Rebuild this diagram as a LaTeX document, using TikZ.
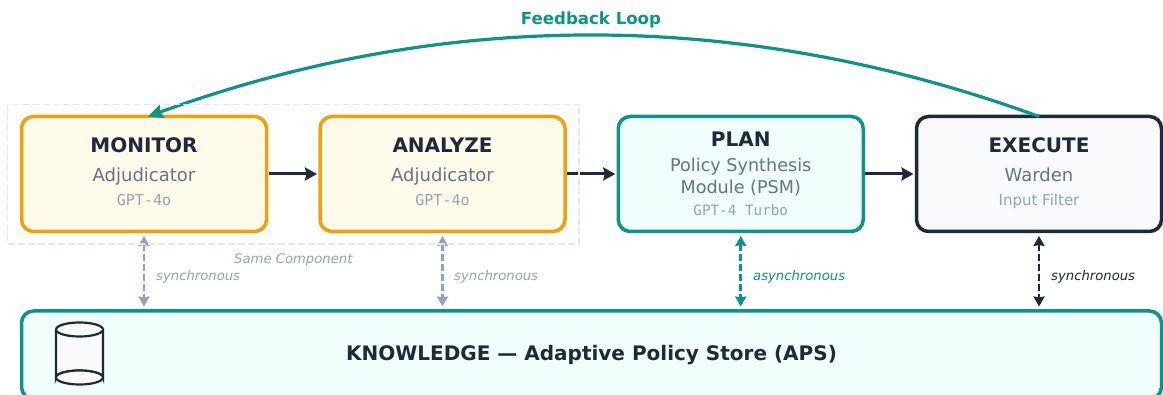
\documentclass[tikz,border=0pt]{standalone}
\usepackage{fontspec}
\setmainfont{DejaVu Sans}
\setmonofont{DejaVu Sans Mono}
\usetikzlibrary{arrows.meta}
\definecolor{orangeC}{HTML}{F59E0B}
\definecolor{orangeF}{HTML}{FFFBEB}
\definecolor{tealC}{HTML}{0D9488}
\definecolor{tealF}{HTML}{F0FDFA}
\definecolor{darkC}{HTML}{1E293B}
\definecolor{darkF}{HTML}{F8FAFC}
\definecolor{slateC}{HTML}{64748B}
\definecolor{mutedC}{HTML}{94A3B8}
\definecolor{edgeC}{HTML}{E2E8F0}
\tikzset{
  x=1pt,y=-1pt,
  box/.style={draw,line width=3.5pt,rounded corners=12pt,inner sep=0pt,outer sep=0pt,minimum height=115pt,minimum width=245pt},
  monbox/.style={box,draw=orangeC,fill=orangeF},
  planbox/.style={box,draw=tealC,fill=tealF},
  execbox/.style={box,draw=darkC,fill=darkF},
  title/.style={anchor=base,inner sep=0pt,text=darkC,font=\fontsize{20}{24}\selectfont\bfseries},
  sub/.style={anchor=base,inner sep=0pt,text=slateC,font=\fontsize{18}{22}\selectfont},
  subplan/.style={anchor=base,inner sep=0pt,text=slateC,font=\fontsize{17.6}{22}\selectfont},
  model/.style={anchor=base,inner sep=0pt,text=mutedC,font=\fontsize{15}{18}\selectfont\ttfamily},
  modelplan/.style={anchor=base,inner sep=0pt,text=mutedC,font=\fontsize{14.3}{18}\selectfont\ttfamily},
  filterlabel/.style={anchor=base,inner sep=0pt,text=mutedC,font=\fontsize{15}{18}\selectfont},
  flow/.style={draw=darkC,line width=3pt,-{Stealth[length=12pt,width=13pt,inset=1.5pt]},shorten <=2pt,shorten >=3pt},
  syncarrow/.style={line width=2.6pt,dash pattern=on 7pt off 3pt,{Stealth[length=10pt,width=11pt,inset=1pt]}-{Stealth[length=10pt,width=11pt,inset=1pt]},shorten <=4.5pt,shorten >=4.5pt},
  edgelabel/.style={anchor=base west,inner sep=0pt,font=\fontsize{13.2}{16}\selectfont\itshape},
}
\begin{document}
\begin{tikzpicture}
\path[use as bounding box,clip] (0,0) rectangle (1163,395);
\fill[white] (0,0) rectangle (1163,395);
% boxes
\node[monbox]  (mon)  at (144,174) {};
\node[monbox]  (ana)  at (442.5,174) {};
\node[planbox] (plan) at (740.75,174) {};
\node[execbox] (exec) at (1039,174) {};
\node[box,draw=tealC,fill=tealF,minimum width=1140pt,minimum height=88pt] (know) at (591.5,355) {};
% flow arrows
\draw[flow] (mon.east) -- (ana.west);
\draw[flow] (ana.east) -- (plan.west);
\draw[flow] (plan.east) -- (exec.west);
% feedback
\draw[draw=tealC,line width=3.2pt,-{Stealth[length=15pt,width=14pt,inset=2pt]}] (exec.north) .. controls (741.7,8.3) and (444.7,8.7) .. ([xshift=4pt]mon.north);
% knowledge links
\draw[syncarrow,draw=mutedC,fill=mutedC] (mon.south) -- (mon.south |- know.north);
\draw[syncarrow,draw=mutedC,fill=mutedC] (ana.south) -- (ana.south |- know.north);
\draw[syncarrow,draw=tealC,fill=tealC] (plan.south) -- (plan.south |- know.north);
\draw[syncarrow,draw=darkC,fill=darkC] (exec.south) -- (exec.south |- know.north);
% same-component frame
\draw[edgeC,line width=1.7pt,dash pattern=on 7pt off 3pt] (7.5,104.5) rectangle (579,244);
% texts
\node[title] (t1) at (144,152.8) {MONITOR};
\node[sub] (s1) at (144,182) {Adjudicator};
\node[model] (m1) at (144,205.7) {GPT-4o};
\node[title] (t2) at (442.5,152.8) {ANALYZE};
\node[sub] (s2) at (442.5,182) {Adjudicator};
\node[model] (m2) at (442.5,205.7) {GPT-4o};
\node[title] (t3) at (740.75,146.8) {PLAN};
\node[subplan] (s3) at (740.75,172) {Policy Synthesis};
\node[subplan] (s3b) at (740.75,194) {Module (PSM)};
\node[modelplan] (m3) at (740.75,215.7) {GPT-4 Turbo};
\node[title] (t4) at (1039,152.8) {EXECUTE};
\node[sub] (s4) at (1039,182) {Warden};
\node[filterlabel] (m4) at (1039,205.7) {Input Filter};
\node[title] (kt) at (591.5,360.7) {KNOWLEDGE — Adaptive Policy Store (APS)};
\node[anchor=base,inner sep=0pt,text=tealC,font=\fontsize{16.6}{20}\selectfont\bfseries] (fb) at (591,24.7) {Feedback Loop};
\node[edgelabel,text=mutedC] (l1) at (156,280.2) {synchronous};
\node[edgelabel,text=mutedC] (l2) at (454,280.2) {synchronous};
\node[edgelabel,text=tealC] (l3) at (753,280.2) {asynchronous};
\node[edgelabel,text=darkC] (l4) at (1051,280.2) {synchronous};
\node[edgelabel,text=mutedC] (same) at (234,263.7) {Same Component};
% database icon
\draw[darkC,line width=2.2pt,fill=darkF] (56,329.5) -- (56,377.5) arc[start angle=180,end angle=360,x radius=23.5,y radius=7] -- (103,329.5);
\draw[darkC,line width=2.2pt,fill=darkF] (79.5,329.5) ellipse[x radius=23.5,y radius=7];
\draw[darkC,line width=2.2pt,fill=darkF] (79.5,377.5) ellipse[x radius=23.5,y radius=7];
\end{tikzpicture}
\end{document}
